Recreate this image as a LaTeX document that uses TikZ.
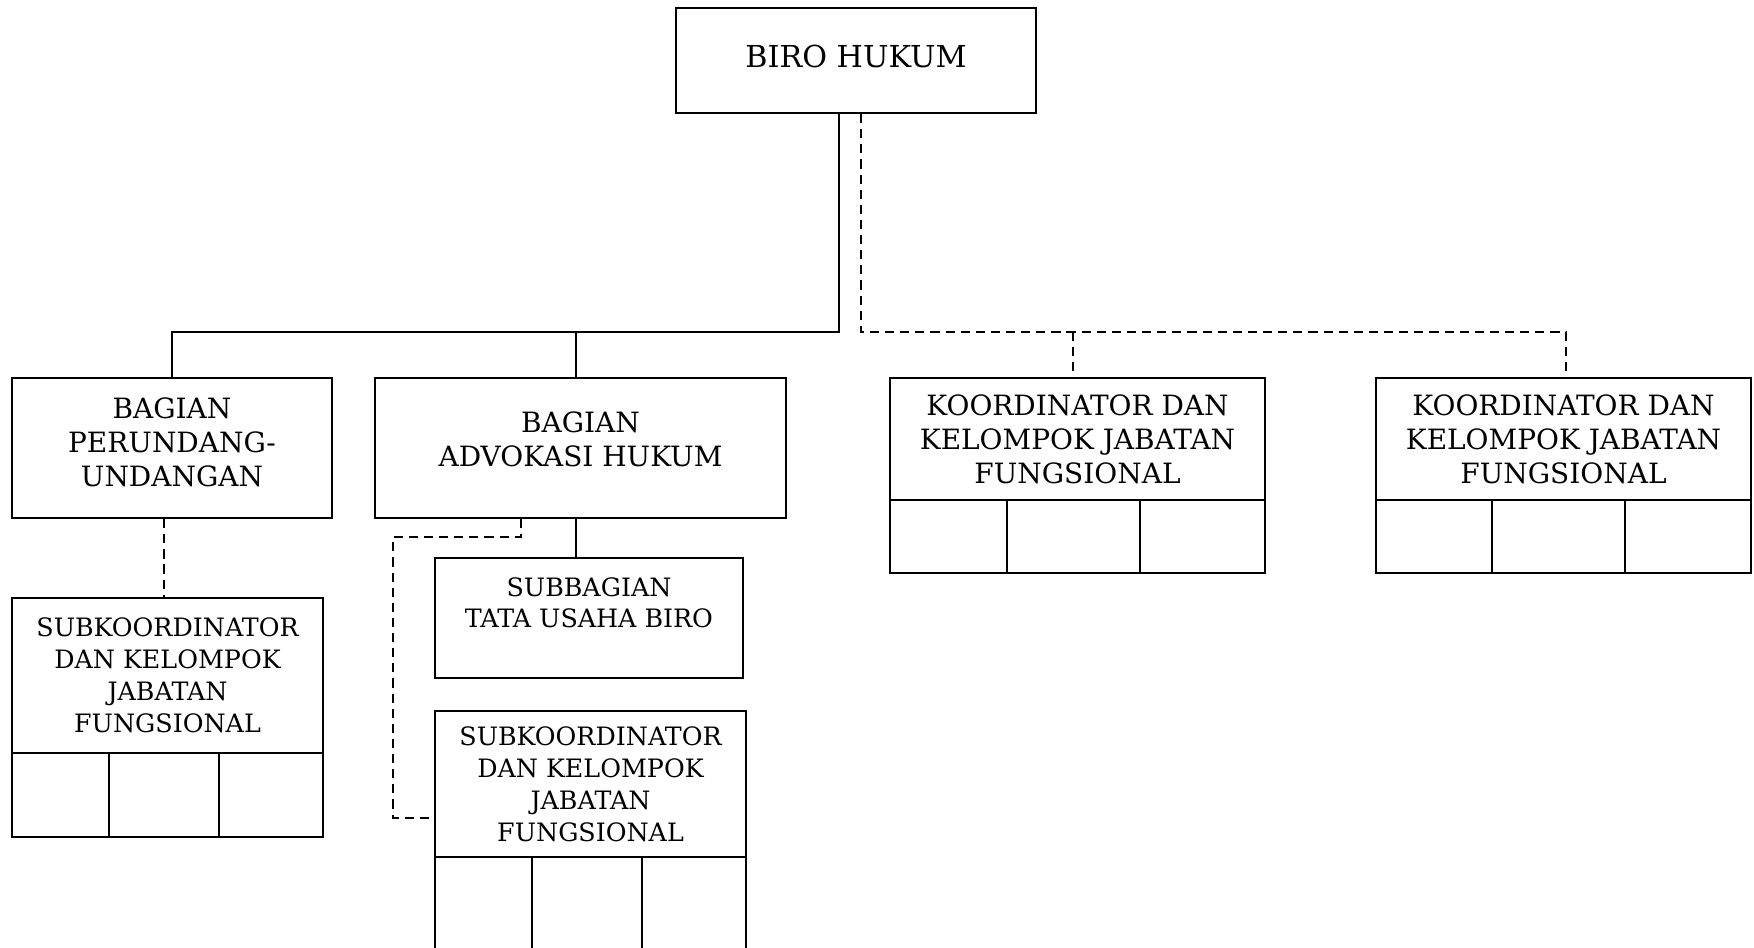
\documentclass[tikz,border=0pt]{standalone}
\usepackage{fontspec}
\setmainfont{DejaVu Serif}
\begin{document}
\begin{tikzpicture}[x=0.01cm,y=-0.01cm,
  box/.style={draw, rectangle, inner sep=0pt, align=center, line width=0.6pt},
  cell/.style={draw, rectangle, inner sep=0pt, line width=0.6pt},
  fbig/.style={font=\fontsize{8.6}{10}\selectfont},
  fmid/.style={font=\fontsize{7.95}{9.7}\selectfont},
  fsml/.style={font=\fontsize{7.2}{9.1}\selectfont},
  ftiny/.style={font=\fontsize{7.2}{8.8}\selectfont},
  solidln/.style={line width=0.6pt},
  dashln/.style={line width=0.6pt, dash pattern=on 2.6pt off 1.7pt}]
\useasboundingbox (0,0) rectangle (1754,947);
\clip (0,0) rectangle (1754,947);

% top
\node[box,fbig,minimum width=3.60cm,minimum height=1.05cm] (biro) at (856,60.5) {BIRO HUKUM\\[-7.4pt]~};

% bagian
\node[box,fmid,minimum width=3.20cm,minimum height=1.40cm] (perund) at (172,448) {BAGIAN\\PERUNDANG-\\UNDANGAN\\[-6.5pt]~};
\node[box,fmid,minimum width=4.11cm,minimum height=1.40cm] (advok) at (580.5,448) {BAGIAN\\ADVOKASI HUKUM\\[-4.6pt]~};

% koordinator 1
\node[box,fmid,minimum width=3.75cm,minimum height=1.22cm] (k1) at (1077.5,439) {KOORDINATOR DAN\\KELOMPOK JABATAN\\FUNGSIONAL};
\node[cell,minimum width=1.17cm,minimum height=0.73cm] (k1a) at (948.5,536.5) {};
\node[cell,minimum width=1.33cm,minimum height=0.73cm] (k1b) at (1073.5,536.5) {};
\node[cell,minimum width=1.25cm,minimum height=0.73cm] (k1c) at (1202.5,536.5) {};

% koordinator 2
\node[box,fmid,minimum width=3.75cm,minimum height=1.22cm] (k2) at (1563.5,439) {KOORDINATOR DAN\\KELOMPOK JABATAN\\FUNGSIONAL};
\node[cell,minimum width=1.16cm,minimum height=0.73cm] (k2a) at (1434,536.5) {};
\node[cell,minimum width=1.33cm,minimum height=0.73cm] (k2b) at (1558.5,536.5) {};
\node[cell,minimum width=1.26cm,minimum height=0.73cm] (k2c) at (1688,536.5) {};

% subkoordinator left
\node[box,fsml,minimum width=3.11cm,minimum height=1.55cm] (subL) at (167.5,675.5) {SUBKOORDINATOR\\DAN KELOMPOK\\JABATAN\\FUNGSIONAL};
\node[cell,minimum width=0.97cm,minimum height=0.84cm] (subLa) at (60.5,795) {};
\node[cell,minimum width=1.10cm,minimum height=0.84cm] (subLb) at (164,795) {};
\node[cell,minimum width=1.04cm,minimum height=0.84cm] (subLc) at (271,795) {};

% subbagian
\node[box,ftiny,minimum width=3.08cm,minimum height=1.20cm] (subbag) at (589,618) {SUBBAGIAN\\TATA USAHA BIRO\\~};

% subkoordinator right
\node[box,fsml,minimum width=3.11cm,minimum height=1.46cm] (subR) at (590.5,784) {SUBKOORDINATOR\\DAN KELOMPOK\\JABATAN\\FUNGSIONAL};
\node[cell,minimum width=0.97cm,minimum height=1.10cm] (subRa) at (483.5,912) {};
\node[cell,minimum width=1.10cm,minimum height=1.10cm] (subRb) at (587,912) {};
\node[cell,minimum width=1.04cm,minimum height=1.10cm] (subRc) at (694,912) {};

% junction coordinates
\coordinate (jl) at (839,332);
\coordinate (jr) at (861,332);
\coordinate (ja) at (576,332);
\coordinate (jk1) at (1073,332);
\coordinate (jk2) at (1566,332);
\coordinate (ad) at (521,537);
\coordinate (av) at (393,537);
\coordinate (ae) at (393,818);

% solid connectors
\draw[solidln] (biro.south -| jl) -- (jl) -| (perund.north);
\draw[solidln] (ja) -- (ja |- advok.north);
\draw[solidln] (advok.south -| ja) -- (subbag.north -| ja);

% dashed connectors
\draw[dashln] (biro.south -| jr) -- (jr) -- (jk2) -- (jk2 |- k2.north);
\draw[dashln] (jk1) -- (jk1 |- k1.north);
\draw[dashln] (perund.south -| 164,0) -- (subL.north -| 164,0);
\draw[dashln] (advok.south -| ad) -- (ad) -- (av) -- (ae) -- (ae -| subR.west);
\end{tikzpicture}
\end{document}
